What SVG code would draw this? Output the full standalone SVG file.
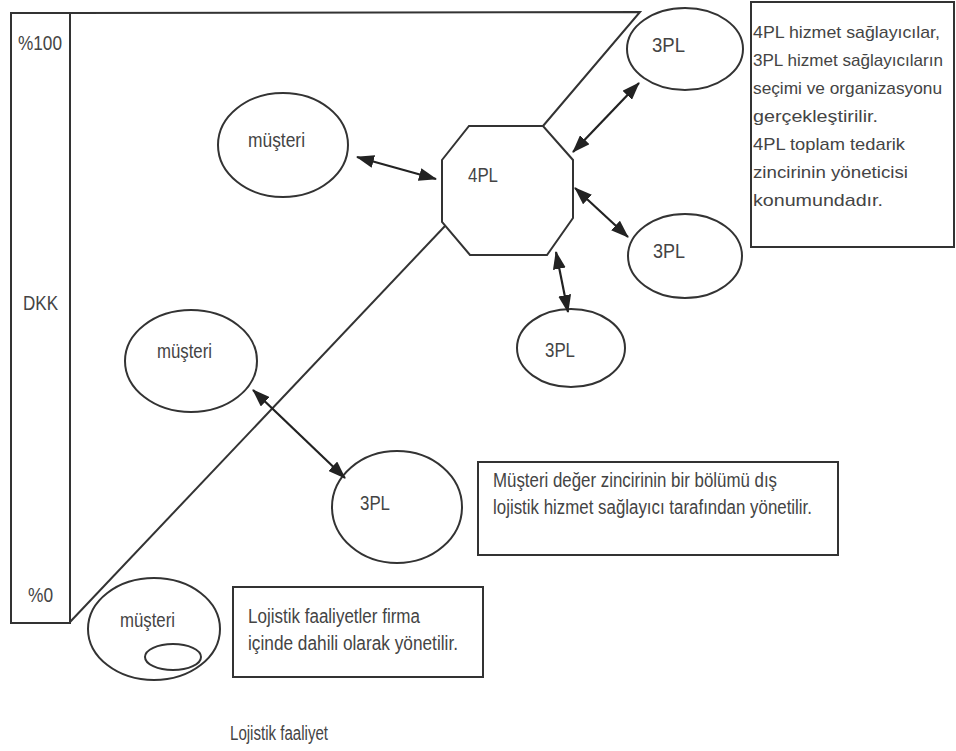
<svg xmlns="http://www.w3.org/2000/svg" width="956" height="751" viewBox="0 0 956 751">
<defs>
<marker id="ah" markerUnits="userSpaceOnUse" markerWidth="18" markerHeight="13" refX="17" refY="6.5" orient="auto-start-reverse">
<path d="M0,0 L18,6.5 L0,13 Z" fill="#222"/>
</marker>
<style>
.ln{fill:none;stroke:#333;stroke-width:2}
.sh{fill:#fff;stroke:#333;stroke-width:2}
.t{font-family:"Liberation Sans",Arial,sans-serif;font-size:20px;fill:#444}
.s{font-size:17px}
.c{stroke:#222;stroke-width:2.2;fill:none;marker-start:url(#ah);marker-end:url(#ah)}
</style>
</defs>
<rect width="956" height="751" fill="#fff"/>
<g id="axis">
<rect class="ln" x="11" y="13" width="59" height="610"/>
<text class="t" x="18" y="50" textLength="44" lengthAdjust="spacingAndGlyphs">%100</text>
<text class="t" x="23" y="310" textLength="35" lengthAdjust="spacingAndGlyphs">DKK</text>
<text class="t" x="28" y="602" textLength="25" lengthAdjust="spacingAndGlyphs">%0</text>
</g>
<g id="region">
<path class="ln" d="M70,13 L640,12 L543,126"/>
<path class="ln" d="M445,226 L70,622"/>
</g>
<g id="n4pl">
<polygon class="sh" points="469,126 543,126 573,160 573,218 547,255 470,255 442,222 442,160"/>
<text class="t" x="468" y="182" textLength="30" lengthAdjust="spacingAndGlyphs">4PL</text>
</g>
<g id="musteri1">
<ellipse class="sh" cx="283" cy="145" rx="65" ry="52"/>
<text class="t" x="248" y="147" textLength="57" lengthAdjust="spacingAndGlyphs">müşteri</text>
</g>
<g id="pl3_top">
<ellipse class="sh" cx="685" cy="49" rx="58" ry="41"/>
<text class="t" x="652" y="52" textLength="33" lengthAdjust="spacingAndGlyphs">3PL</text>
</g>
<g id="pl3_mid">
<ellipse class="sh" cx="685" cy="256" rx="57" ry="42"/>
<text class="t" x="653" y="258" textLength="32" lengthAdjust="spacingAndGlyphs">3PL</text>
</g>
<g id="pl3_bottom">
<ellipse class="sh" cx="571" cy="348" rx="54" ry="39"/>
<text class="t" x="545" y="357" textLength="30" lengthAdjust="spacingAndGlyphs">3PL</text>
</g>
<g id="musteri2">
<ellipse class="sh" cx="191" cy="361" rx="66" ry="51"/>
<text class="t" x="157" y="358" textLength="55" lengthAdjust="spacingAndGlyphs">müşteri</text>
</g>
<g id="pl3_left">
<ellipse class="sh" cx="397" cy="507" rx="65" ry="56"/>
<text class="t" x="360" y="510" textLength="30" lengthAdjust="spacingAndGlyphs">3PL</text>
</g>
<g id="musteri3">
<ellipse class="sh" cx="154" cy="629" rx="66" ry="51"/>
<text class="t" x="120" y="627" textLength="55" lengthAdjust="spacingAndGlyphs">müşteri</text>
<ellipse class="ln" cx="173" cy="657" rx="28" ry="13"/>
</g>
<g id="note_4pl">
<rect class="sh" x="751" y="2" width="203" height="245"/>
<text class="t s" x="753" y="38" textLength="187" lengthAdjust="spacingAndGlyphs">4PL hizmet sağlayıcılar,</text>
<text class="t s" x="753" y="66" textLength="190" lengthAdjust="spacingAndGlyphs">3PL hizmet sağlayıcıların</text>
<text class="t s" x="753" y="94" textLength="189" lengthAdjust="spacingAndGlyphs">seçimi ve organizasyonu</text>
<text class="t s" x="753" y="122" textLength="125" lengthAdjust="spacingAndGlyphs">gerçekleştirilir.</text>
<text class="t s" x="753" y="150" textLength="152" lengthAdjust="spacingAndGlyphs">4PL toplam tedarik</text>
<text class="t s" x="753" y="178" textLength="155" lengthAdjust="spacingAndGlyphs">zincirinin yöneticisi</text>
<text class="t s" x="753" y="206" textLength="130" lengthAdjust="spacingAndGlyphs">konumundadır.</text>
</g>
<g id="note_3pl">
<rect class="sh" x="478" y="462" width="360" height="93"/>
<text class="t" x="493" y="487" textLength="284" lengthAdjust="spacingAndGlyphs">Müşteri değer zincirinin bir bölümü dış</text>
<text class="t" x="493" y="514" textLength="319" lengthAdjust="spacingAndGlyphs">lojistik hizmet sağlayıcı tarafından yönetilir.</text>
</g>
<g id="note_internal">
<rect class="sh" x="233" y="587" width="250" height="90"/>
<text class="t" x="248" y="623" textLength="172" lengthAdjust="spacingAndGlyphs">Lojistik faaliyetler firma</text>
<text class="t" x="248" y="650" textLength="210" lengthAdjust="spacingAndGlyphs">içinde dahili olarak yönetilir.</text>
</g>
<g id="legend">
<text class="t" x="230" y="740" textLength="98" lengthAdjust="spacingAndGlyphs">Lojistik faaliyet</text>
</g>
<g id="connectors">
<line class="c" x1="357" y1="157" x2="436" y2="179"/>
<line class="c" x1="573" y1="152" x2="639" y2="83"/>
<line class="c" x1="575" y1="188" x2="628" y2="237"/>
<line class="c" x1="556" y1="252" x2="568" y2="312"/>
<line class="c" x1="253" y1="390" x2="345" y2="478"/>
</g>
</svg>
